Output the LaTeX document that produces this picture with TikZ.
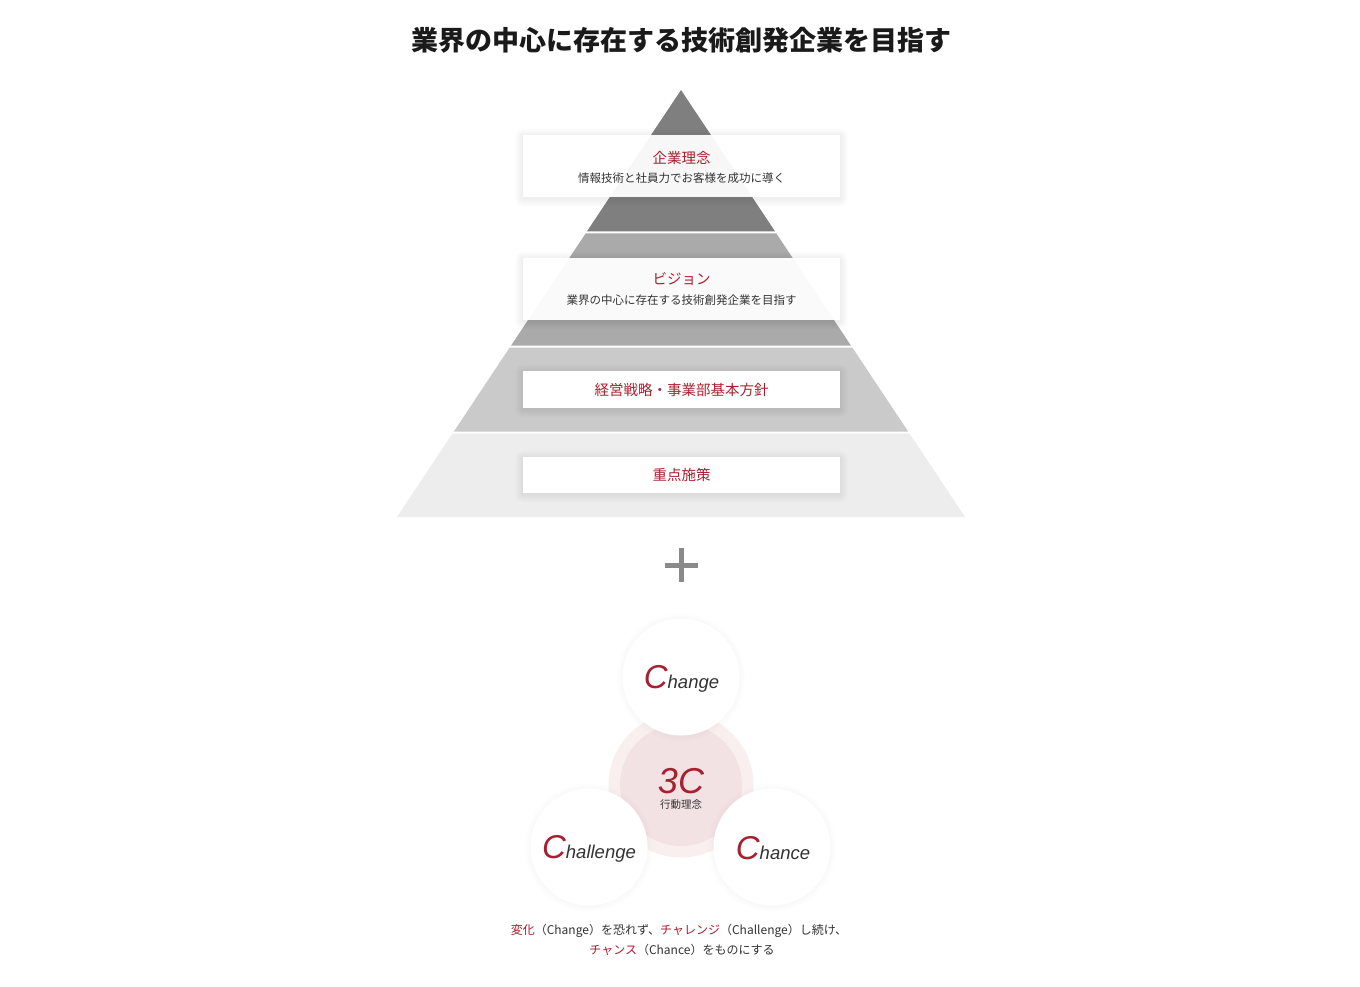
\documentclass[tikz,border=0pt]{standalone}
\usepackage{fontspec}
\setmainfont{Noto Sans CJK JP}
\newfontfamily\cjk{Noto Sans CJK JP}
\newfontfamily\lat{Liberation Sans}
\definecolor{accent}{HTML}{A8202F}
\definecolor{bandA}{HTML}{7F7F7F}
\definecolor{bandB}{HTML}{AAAAAA}
\definecolor{bandC}{HTML}{CACACA}
\definecolor{bandD}{HTML}{EDEDED}
\definecolor{ink}{HTML}{333333}
\definecolor{titleink}{HTML}{1A1A1A}
\definecolor{pinkin}{HTML}{F3E2E3}
\definecolor{pinkout}{HTML}{FAEFEF}
\definecolor{plusgray}{HTML}{8A8A8A}
\pgfdeclarelayer{pyr}
\pgfdeclarelayer{shad}
\pgfsetlayers{pyr,shad,main}
\begin{document}
\begin{tikzpicture}[x=1pt,y=-1pt,
  card/.style={fill=white, minimum width=317pt, inner sep=0pt, outer sep=0pt},
  cardhead/.style={text=accent, font=\cjk\fontsize{14.5}{16}\selectfont, inner sep=0pt},
  cardsub/.style={text=ink, font=\cjk\fontsize{11.5}{13}\selectfont, inner sep=0pt},
  bubble/.style={circle, fill=white, minimum size=117pt, inner sep=0pt},
  softshade/.style={black, opacity=0.0075},
  cword/.style={anchor=base, inner sep=0pt, font=\lat\itshape},
  caption/.style={anchor=base, inner sep=0pt, text=ink, font=\cjk\fontsize{12}{14}\selectfont}]
\begin{pgfonlayer}{pyr}
\useasboundingbox[fill=white] (0,0) rectangle (1360,987);
% pyramid bands
\fill[bandA] (681,90) -- (775.1,231.5) -- (586.9,231.5) -- cycle;
\fill[bandB] (585.6,233.5) -- (776.4,233.5) -- (850.9,345.5) -- (511.1,345.5) -- cycle;
\fill[bandC] (509.7,347.5) -- (852.3,347.5) -- (908.1,431.5) -- (453.9,431.5) -- cycle;
\fill[bandD] (452.5,433.5) -- (909.5,433.5) -- (965,517) -- (397,517) -- cycle;
% 3C core
\fill[pinkout] (681,785) circle (72.5);
\fill[pinkin] (681,785) circle (61);
\end{pgfonlayer}
% title
\node[inner sep=0pt, text=titleink, font=\cjk\bfseries\fontsize{27}{30}\selectfont] (title) at (681,40) {業界の中心に存在する技術創発企業を目指す};
% cards
\node[card, minimum height=62pt] (card1) at (681.5,166) {};
\node[card, minimum height=62pt] (card2) at (681.5,289) {};
\node[card, minimum height=37pt] (card3) at (681.5,389.5) {};
\node[card, minimum height=36pt] (card4) at (681.5,475) {};
\begin{pgfonlayer}{shad}
\foreach \c in {card1,card2,card3,card4}{
  \foreach \i in {1,...,8}{
    \fill[softshade, rounded corners=\i pt] ([shift={(-\i,-\i+1.5)}]\c.north west) rectangle ([shift={(\i,\i+1.5)}]\c.south east);
  }
}
\end{pgfonlayer}
% faint pyramid seen through the upper cards
\begin{scope}
\clip (card1.north west) rectangle (card1.south east);
\fill[bandA, opacity=0.06] (681,90) -- (775.1,231.5) -- (586.9,231.5) -- cycle;
\end{scope}
\begin{scope}
\clip (card2.north west) rectangle (card2.south east);
\fill[bandB, opacity=0.06] (585.6,233.5) -- (776.4,233.5) -- (850.9,345.5) -- (511.1,345.5) -- cycle;
\end{scope}
\node[cardhead] (h1) at (681.5,158) {企業理念};
\node[cardsub] (s1) at (681.5,178) {情報技術と社員力でお客様を成功に導く};
\node[cardhead] (h2) at (681.5,279) {ビジョン};
\node[cardsub] (s2) at (681.5,300) {業界の中心に存在する技術創発企業を目指す};
\node[cardhead] (h3) at (681.5,390) {経営戦略・事業部基本方針};
\node[cardhead] (h4) at (681.5,475) {重点施策};
% plus sign
\coordinate (plus) at (681.5,565);
\draw[plusgray, line width=5pt] ([xshift=-16.5pt]plus) -- ([xshift=16.5pt]plus);
\draw[plusgray, line width=5pt] ([yshift=17pt]plus) -- ([yshift=-17pt]plus);
% 3C circles
\node[circle, minimum size=145pt, inner sep=0pt] (core) at (681,785) {};
\node[bubble] (change) at (681,677) {};
\node[bubble] (challenge) at (589,847) {};
\node[bubble] (chance) at (772,847) {};
\begin{pgfonlayer}{shad}
\foreach \c in {change,challenge,chance}{
  \foreach \i in {1,...,6}{
    \fill[black, opacity=0.0045] ([yshift=-0.5pt]\c.center) circle (58.5+\i);
  }
}
\end{pgfonlayer}
\node[cword] (tchange) at (681.5,688) {\textcolor{accent}{\fontsize{33}{33}\selectfont C}\textcolor{ink}{\fontsize{18.5}{20}\selectfont hange}};
\node[cword] (tchallenge) at (589,858) {\textcolor{accent}{\fontsize{33}{33}\selectfont C}\textcolor{ink}{\fontsize{18.5}{20}\selectfont hallenge}};
\node[cword] (tchance) at (773,859) {\textcolor{accent}{\fontsize{33}{33}\selectfont C}\textcolor{ink}{\fontsize{18.5}{20}\selectfont hance}};
\node[cword, text=accent, font=\lat\itshape\fontsize{36}{36}\selectfont] (t3c) at (681,793) {3C};
\node[inner sep=0pt, text=ink, font=\cjk\fontsize{10.5}{12}\selectfont] (tkodo) at (681,805) {行動理念};
% caption
\node[caption] (cap1) at (679,934) {\textcolor{accent}{変化}（Change）を恐れず、\textcolor{accent}{チャレンジ}（Challenge）し続け、};
\node[caption] (cap2) at (682,954) {\textcolor{accent}{チャンス}（Chance）をものにする};
\end{tikzpicture}
\end{document}
